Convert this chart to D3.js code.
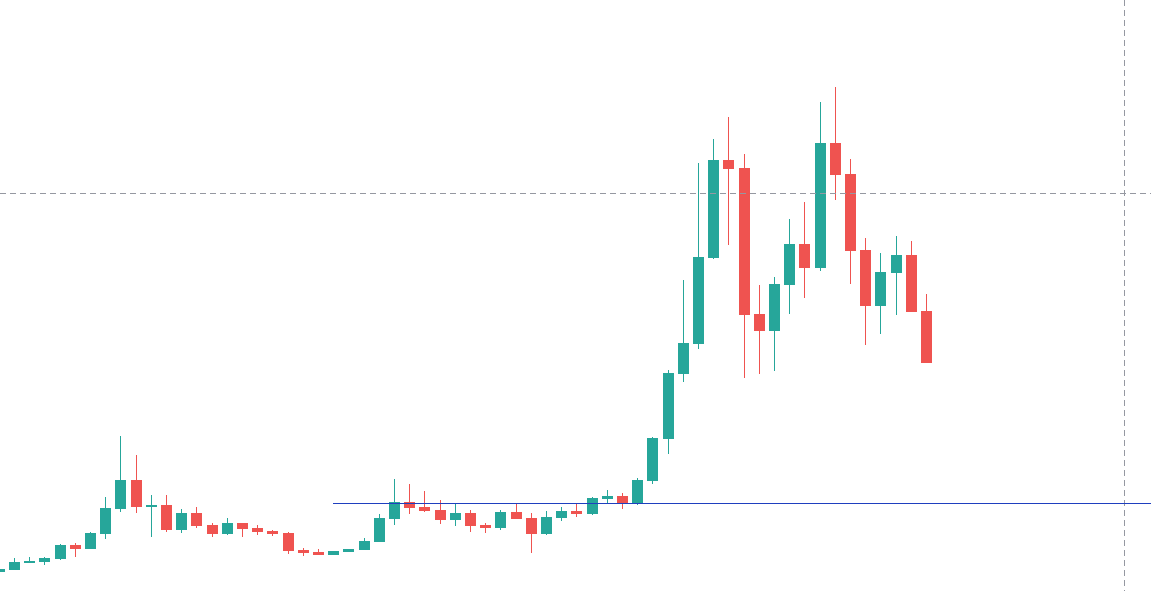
<!DOCTYPE html>
<html>
<head>
<meta charset="utf-8">
<script src="https://cdn.jsdelivr.net/npm/d3@7/dist/d3.min.js"></script>
<style>
  html, body { margin: 0; padding: 0; background: #ffffff; overflow: hidden; }
  #chart { width: 1151px; height: 591px; }
</style>
</head>
<body>
<div id="chart"></div>
<script>
// candle data (bar index = position)
let openP  = [1.9, 2.1, 2.8, 2.9, 3.2, 4.6, 4.2, 5.7, 8.2, 11.1,
              8.4, 8.6, 6.1, 7.8, 6.6, 5.7, 6.8, 6.3, 6.0, 5.8,
              4.1, 3.9, 3.6, 3.9, 4.1, 4.9, 7.2, 8.9, 8.4, 8.1,
              7.1, 7.8, 6.6, 6.3, 7.9, 7.3, 5.7, 7.3, 8.0, 7.7,
              9.2, 9.5, 8.8, 11.0, 15.2, 21.7, 24.7, 33.3, 43.1, 42.3,
              27.7, 26.0, 30.6, 34.7, 32.3, 44.8, 41.7, 34.1, 28.5, 31.8,
              33.6, 28.0];
let highP  = [2.2, 3.3, 3.4, 3.4, 4.7, 4.8, 5.9, 9.4, 15.5, 13.6,
              9.6, 9.6, 8.2, 8.4, 6.8, 7.3, 6.8, 6.6, 6.1, 5.9,
              4.3, 4.2, 4.0, 4.2, 5.3, 7.7, 11.2, 10.7, 10.0, 9.1,
              8.8, 8.1, 6.8, 8.1, 8.8, 7.8, 8.0, 8.4, 8.8, 9.4,
              10.1, 9.8, 11.3, 15.4, 22.1, 31.1, 42.8, 45.2, 47.4, 43.7,
              30.6, 31.4, 37.2, 38.9, 48.9, 50.4, 43.2, 35.3, 33.8, 35.5,
              35.0, 29.7];
let lowP   = [1.9, 2.1, 2.8, 2.6, 3.1, 3.4, 4.2, 5.2, 7.9, 7.8,
              5.4, 5.9, 5.8, 6.3, 5.4, 5.6, 5.4, 5.6, 5.5, 3.7,
              3.5, 3.6, 3.6, 3.9, 4.1, 4.9, 6.6, 7.7, 7.9, 6.7,
              6.5, 5.9, 5.8, 6.1, 7.2, 3.8, 5.6, 7.0, 7.4, 7.6,
              8.8, 8.2, 8.6, 10.7, 13.7, 20.9, 24.2, 33.2, 34.6, 21.3,
              21.7, 22.0, 27.7, 29.3, 32.0, 39.1, 30.7, 24.6, 25.7, 27.6,
              27.9, 22.8];
let closeP = [2.2, 2.9, 3.0, 3.3, 4.6, 4.2, 5.8, 8.3, 11.1, 8.4,
              8.6, 6.1, 7.8, 6.5, 5.7, 6.8, 6.2, 5.9, 5.7, 4.0,
              3.8, 3.6, 4.0, 4.2, 5.0, 7.3, 8.9, 8.3, 8.0, 7.1,
              7.8, 6.5, 6.3, 7.9, 7.2, 5.7, 7.4, 8.0, 7.7, 9.3,
              9.5, 8.8, 11.1, 15.3, 21.8, 24.8, 33.4, 43.1, 42.2, 27.6,
              26.0, 30.7, 34.7, 32.3, 44.8, 41.6, 34.0, 28.5, 31.9, 33.6,
              27.9, 22.8];

// horizontal ray and crosshair
let rayStartBar = 22;
let rayPrice = 8.8;
let crossBar = 74;
let crossPrice = 39.8;

let w = 1151;
let h = 591;
let upColor = "#26a69a";
let downColor = "#ef5350";

let candles = openP.map(function(o, i){
  return {i: i, o: o, h: highP[i], l: lowP[i], c: closeP[i]};
});

let viz = d3.select("#chart")
  .append("svg")
    .attr("width", w)
    .attr("height", h)
    .attr("shape-rendering", "crispEdges")
    .style("background-color", "white")
;

let x = d3.scaleLinear()
    .domain([0, crossBar])
    .range([-0.7, 1124.1])
;

let y = d3.scaleLinear()
    .domain([0, 59.1])
    .range([h, 0])
;

let bodyW = 11;

function col(d){ return d.c >= d.o ? upColor : downColor; }

// wicks
viz.append("g").selectAll("rect").data(candles)
  .enter()
  .append("rect")
    .attr("x", function(d){ return Math.floor(x(d.i)) })
    .attr("y", function(d){ return Math.round(y(d.h)) })
    .attr("width", 1)
    .attr("height", function(d){ return Math.max(1, Math.round(y(d.l)) - Math.round(y(d.h))) })
    .style("fill", col)
;

// bodies
viz.append("g").selectAll("rect").data(candles)
  .enter()
  .append("rect")
    .attr("x", function(d){ return Math.floor(x(d.i)) - 5 })
    .attr("y", function(d){ return Math.round(y(Math.max(d.o, d.c))) })
    .attr("width", bodyW)
    .attr("height", function(d){
      return Math.max(2, Math.round(y(Math.min(d.o, d.c))) - Math.round(y(Math.max(d.o, d.c))));
    })
    .style("fill", col)
;

// crosshair
viz.append("line")
    .attr("x1", 0).attr("x2", w)
    .attr("y1", Math.round(y(crossPrice)) + 0.5)
    .attr("y2", Math.round(y(crossPrice)) + 0.5)
    .style("stroke", "#9598a1")
    .style("stroke-width", 1)
    .style("stroke-dasharray", "6,4")
;
viz.append("line")
    .attr("x1", Math.floor(x(crossBar)) + 0.5)
    .attr("x2", Math.floor(x(crossBar)) + 0.5)
    .attr("y1", 0).attr("y2", h)
    .style("stroke", "#9598a1")
    .style("stroke-width", 1)
    .style("stroke-dasharray", "6,4")
;

// horizontal ray
viz.append("line")
    .attr("x1", Math.floor(x(rayStartBar)))
    .attr("x2", w)
    .attr("y1", Math.round(y(rayPrice)) + 0.5)
    .attr("y2", Math.round(y(rayPrice)) + 0.5)
    .style("stroke", "#1f3fbf")
    .style("stroke-width", 1)
;
</script>
</body>
</html>
